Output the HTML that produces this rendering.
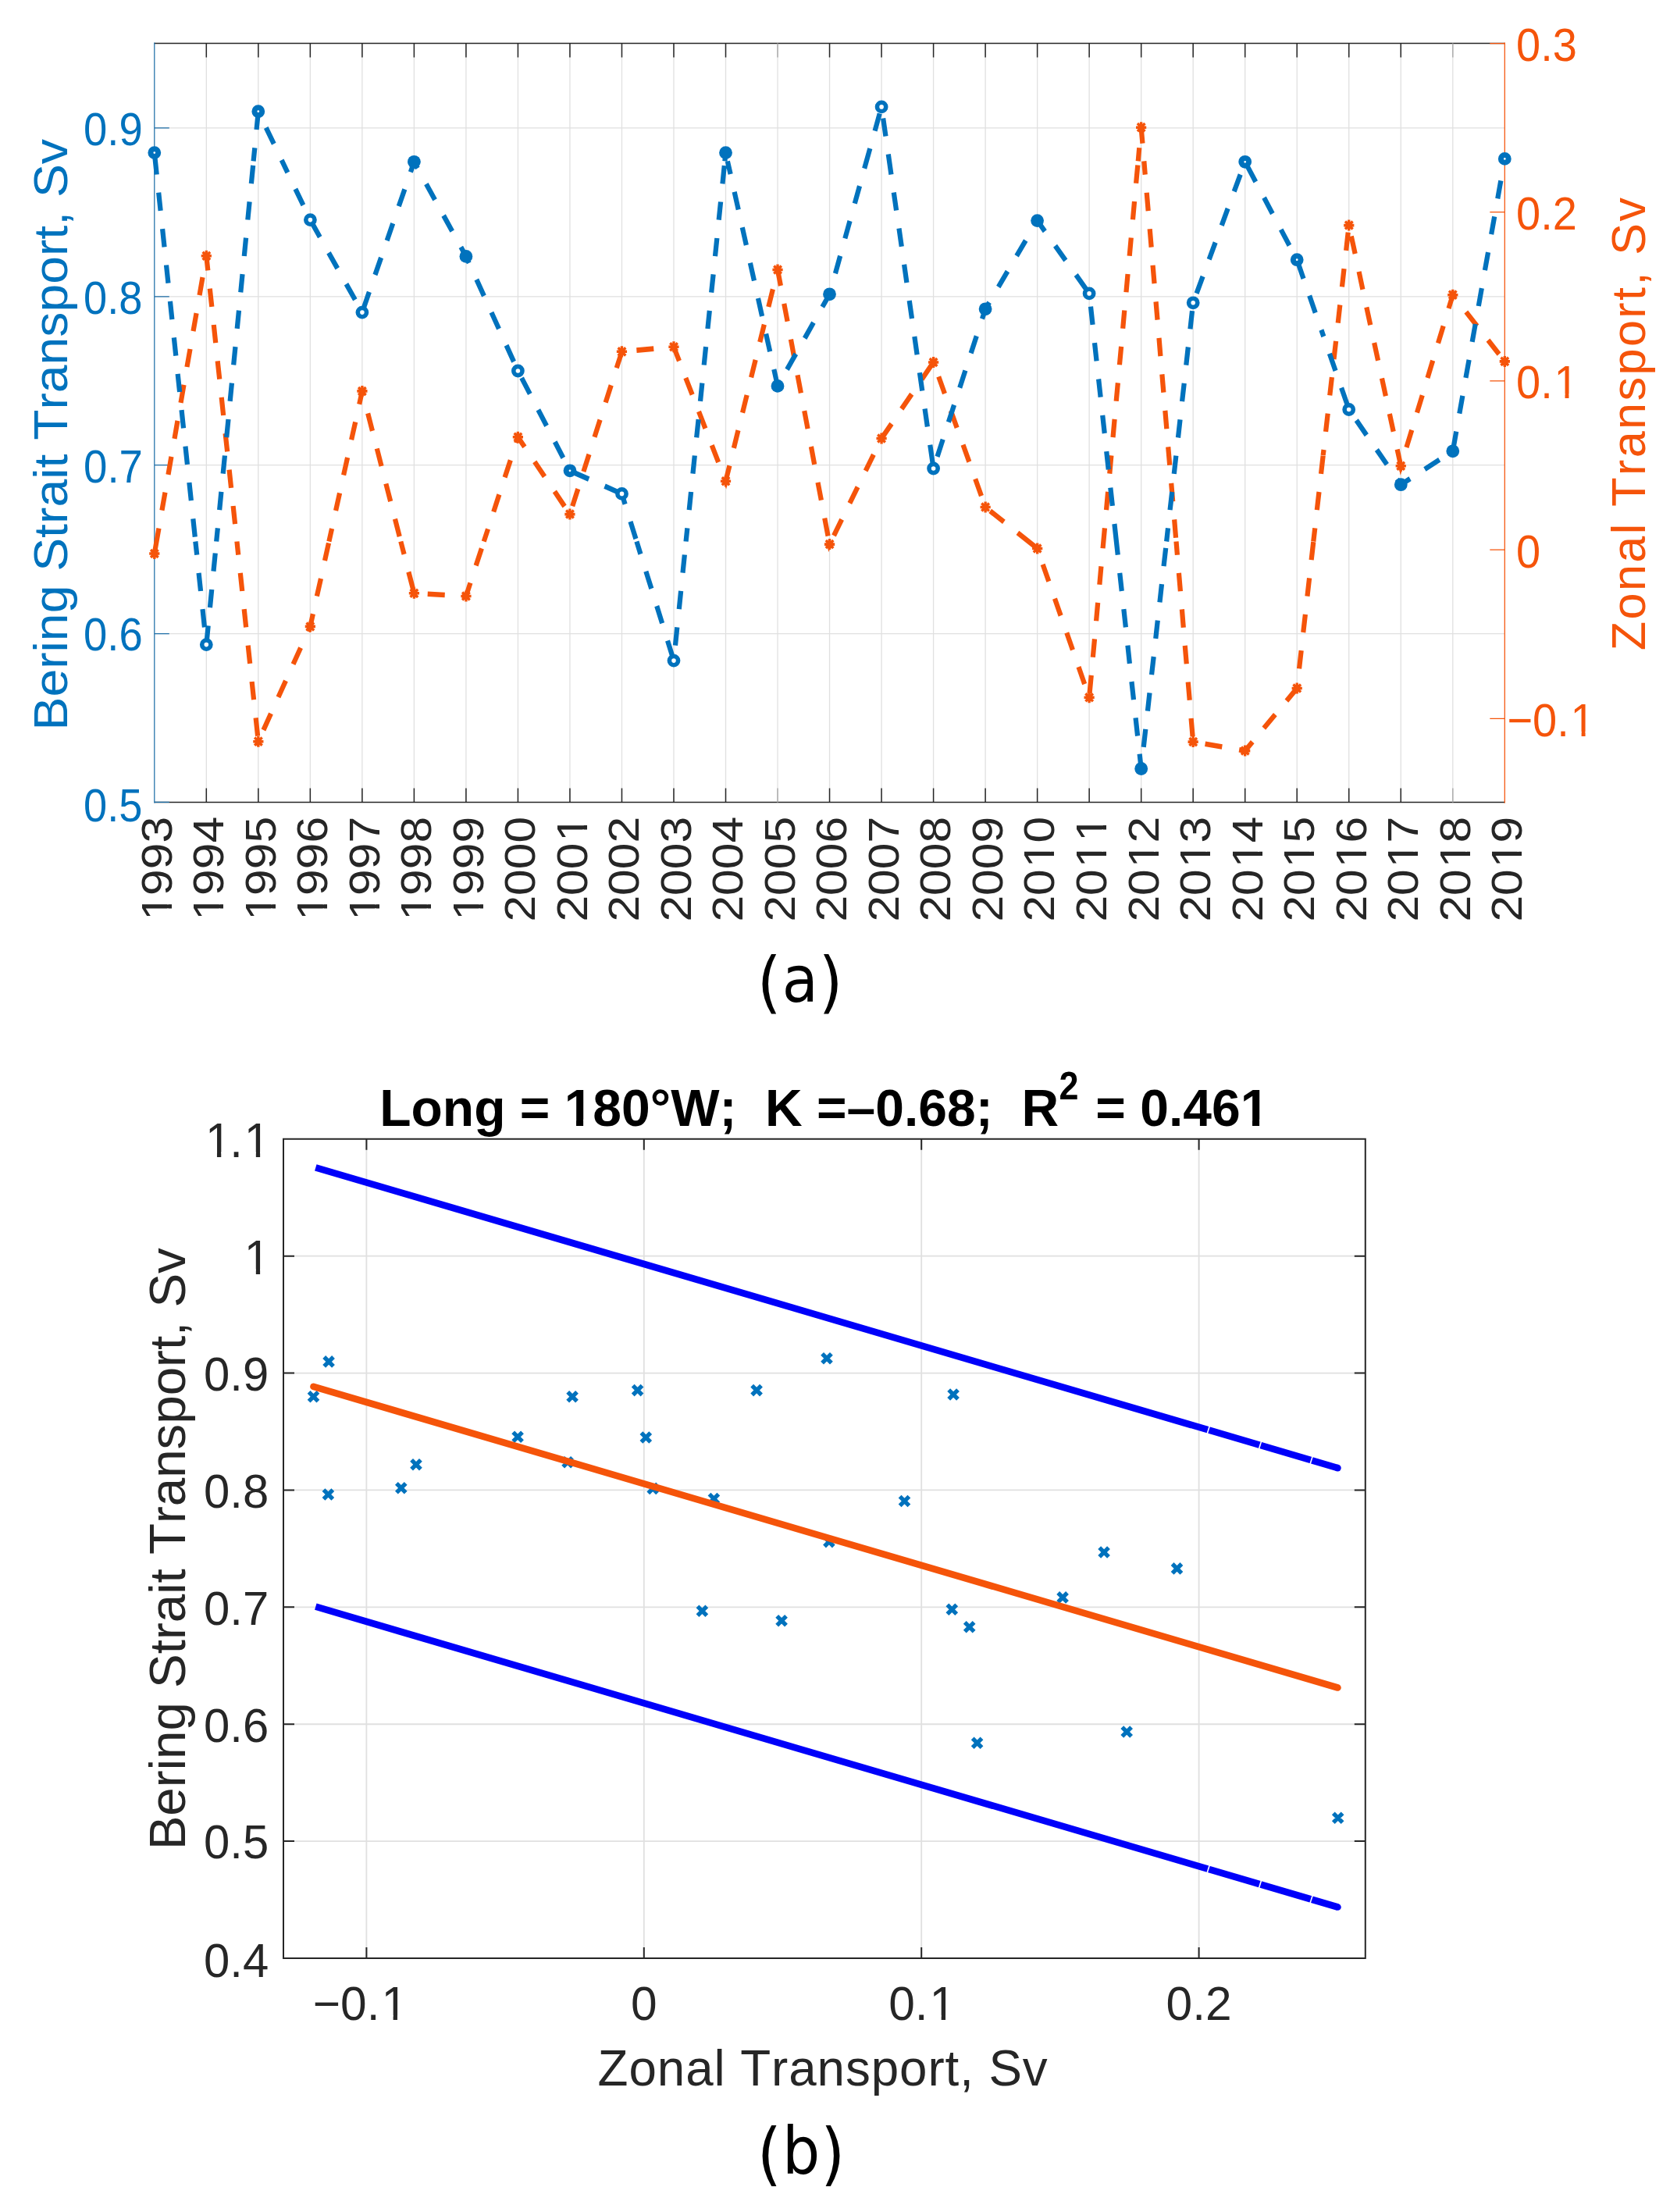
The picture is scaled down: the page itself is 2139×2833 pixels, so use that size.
<!DOCTYPE html>
<html lang="en"><head><meta charset="utf-8"><title>Bering Strait Transport vs Zonal Transport</title>
<style>html,body{margin:0;padding:0;background:#fff}svg text{font-kerning:none}svg{filter:blur(0.55px)}body{width:2139px;height:2833px;overflow:hidden}</style></head>
<body>
<svg width="2139" height="2833" viewBox="0 0 2139 2833" style="display:block"><rect x="0" y="0" width="2139" height="2833" fill="#fff"/>
<path d="M264.32 55.6V1027.4M330.84 55.6V1027.4M397.36 55.6V1027.4M463.88 55.6V1027.4M530.40 55.6V1027.4M596.92 55.6V1027.4M663.43 55.6V1027.4M729.95 55.6V1027.4M796.47 55.6V1027.4M862.99 55.6V1027.4M929.51 55.6V1027.4M996.03 55.6V1027.4M1062.55 55.6V1027.4M1129.07 55.6V1027.4M1195.59 55.6V1027.4M1262.11 55.6V1027.4M1328.63 55.6V1027.4M1395.15 55.6V1027.4M1461.67 55.6V1027.4M1528.18 55.6V1027.4M1594.70 55.6V1027.4M1661.22 55.6V1027.4M1727.74 55.6V1027.4M1794.26 55.6V1027.4M1860.78 55.6V1027.4M197.8 811.60H1927.3M197.8 595.70H1927.3M197.8 379.80H1927.3M197.8 163.90H1927.3" stroke="#e0e0e0" stroke-width="1.3" fill="none"/>
<path d="M197.8 55.6H1927.3M197.8 1027.4H1927.3" stroke="#262626" stroke-width="1.5" fill="none"/>
<path d="M264.32 55.6v18M264.32 1027.4v-18M330.84 55.6v18M330.84 1027.4v-18M397.36 55.6v18M397.36 1027.4v-18M463.88 55.6v18M463.88 1027.4v-18M530.40 55.6v18M530.40 1027.4v-18M596.92 55.6v18M596.92 1027.4v-18M663.43 55.6v18M663.43 1027.4v-18M729.95 55.6v18M729.95 1027.4v-18M796.47 55.6v18M796.47 1027.4v-18M862.99 55.6v18M862.99 1027.4v-18M929.51 55.6v18M929.51 1027.4v-18M1062.55 55.6v18M1062.55 1027.4v-18M1129.07 55.6v18M1129.07 1027.4v-18M1195.59 55.6v18M1195.59 1027.4v-18M1262.11 55.6v18M1262.11 1027.4v-18M1328.63 55.6v18M1328.63 1027.4v-18M1395.15 55.6v18M1395.15 1027.4v-18M1461.67 55.6v18M1461.67 1027.4v-18M1528.18 55.6v18M1528.18 1027.4v-18M1594.70 55.6v18M1594.70 1027.4v-18M1661.22 55.6v18M1661.22 1027.4v-18M1727.74 55.6v18M1727.74 1027.4v-18M1794.26 55.6v18M1794.26 1027.4v-18" stroke="#262626" stroke-width="1.5" fill="none"/>
<path d="M996.03 55.6v18M996.03 1027.4v-18M1860.78 55.6v18M1860.78 1027.4v-18" stroke="#b0b0b0" stroke-width="1.6" fill="none"/>
<path d="M197.8 54.6V1028.4M197.8 1027.40h19M197.8 811.60h19M197.8 595.70h19M197.8 379.80h19M197.8 163.90h19" stroke="#1f6fa8" stroke-width="1.25" fill="none"/>
<path d="M1927.3 54.6V1028.4M1927.3 920.25h-19M1927.3 704.00h-19M1927.3 487.75h-19M1927.3 271.50h-19M1927.3 55.60h-19" stroke="#f5540a" stroke-width="1.25" fill="none"/>
<g transform="scale(0.945 1)" fill="none">
<path d="M209.3 709.0L215.3 676.6M219.5 653.7L223.8 630.7M228.0 607.8L232.2 584.8M236.5 561.8L240.7 538.9M245.0 515.9L249.2 492.9M253.4 470.0L257.7 447.0M261.9 424.1L266.2 401.1M270.4 378.1L274.6 355.2M278.9 332.2L279.7 327.7L281.8 346.4M284.4 369.6L287.1 392.8M289.7 416.0L292.3 439.2M294.9 462.4L297.6 485.6M300.2 508.8L302.8 532.0M305.4 555.2L308.1 578.4M310.7 601.6L313.3 624.8M316.0 648.0L318.6 671.2M321.1 693.5L323.0 710.6M325.7 733.8L328.3 757.0M330.9 780.2L333.5 803.4M336.2 826.6L338.8 849.8M341.4 873.0L344.0 896.2M346.7 919.4L349.3 942.6M357.1 935.0L367.2 913.9M377.2 892.9L387.3 871.8M397.4 850.7L407.5 829.6M417.5 808.6L420.5 802.4L424.2 786.3M429.5 763.6L434.9 740.9M440.2 718.1L445.5 695.4M445.9 693.5L449.8 676.9M455.1 654.1L460.4 631.4M465.7 608.6L471.0 585.9M476.3 563.2L481.7 540.4M487.0 517.7L490.9 500.9L492.5 506.9M498.6 529.4L504.7 551.9M510.9 574.5L517.0 597.0M523.1 619.5L529.3 642.1M535.4 664.6L541.5 687.1M543.2 693.5L547.7 709.9M553.8 732.5L560.0 755.0M579.6 760.8L602.9 762.0M626.3 763.2L631.7 763.5L637.5 746.5M645.1 724.4L652.8 702.4M655.8 693.5L661.4 677.5M669.0 655.5L676.6 633.4M684.2 611.3L691.9 589.3M699.5 567.2L702.0 559.8L711.0 572.4M724.6 591.4L738.1 610.4M751.7 629.4L765.2 648.5M775.9 648.2L783.4 626.1M790.9 604.0L798.4 581.9M805.8 559.8L813.3 537.6M820.8 515.5L828.3 493.4M835.7 471.3L841.8 453.5M862.8 448.6L886.0 446.6M909.3 444.6L913.2 444.3L920.6 462.3M929.4 483.9L938.3 505.5M947.1 527.1L956.0 548.7M964.8 570.3L973.7 591.9M982.5 613.5L983.6 616.2L988.8 596.4M994.6 573.8L1000.5 551.2M1006.4 528.6L1012.3 506.0M1018.1 483.4L1024.0 460.8M1029.9 438.2L1035.8 415.6M1041.6 393.0L1047.5 370.4M1053.4 347.8L1054.0 345.5L1058.1 366.0M1062.7 388.9L1067.3 411.7M1071.9 434.6L1076.4 457.5M1081.0 480.4L1085.6 503.3M1090.2 526.2L1094.8 549.1M1099.4 572.0L1103.9 594.9M1108.5 617.8L1113.1 640.7M1117.7 663.6L1122.3 686.5M1123.7 693.5L1124.4 697.1L1126.3 693.5M1130.2 685.9L1140.9 665.2M1151.7 644.5L1162.5 623.8M1173.2 603.0L1184.0 582.3M1194.7 561.6L1194.8 561.5L1208.4 542.7M1222.0 523.7L1235.7 504.8M1249.4 485.9L1263.0 466.9M1272.2 482.4L1280.4 504.2M1288.7 526.0L1297.0 547.9M1305.3 569.7L1313.6 591.5M1321.9 613.4L1330.1 635.2M1342.0 654.4L1360.7 668.4M1379.3 682.4L1404.6 701.4M1413.4 722.8L1421.5 744.7M1429.6 766.6L1437.7 788.5M1445.8 810.4L1453.9 832.3M1461.9 854.2L1470.0 876.1M1476.8 888.1L1479.1 864.9M1481.3 841.7L1483.6 818.4M1485.8 795.2L1488.0 771.9M1490.3 748.7L1492.5 725.4M1494.8 702.2L1497.3 676.4M1499.5 653.1L1501.7 629.9M1504.0 606.6L1506.2 583.4M1508.5 560.1L1510.7 536.9M1512.9 513.7L1515.2 490.4M1517.4 467.2L1519.7 443.9M1521.9 420.7L1524.1 397.5M1526.4 374.2L1528.6 351.0M1530.9 327.7L1533.1 304.5M1535.4 281.2L1537.6 258.0M1539.8 234.8L1542.1 211.5M1542.6 206.4L1544.2 189.3M1546.5 166.0L1546.7 163.2L1548.6 183.6M1550.6 206.4L1552.1 223.6M1554.2 246.8L1556.3 270.1M1558.4 293.3L1560.5 316.6M1562.5 339.8L1564.6 363.1M1566.7 386.4L1568.8 409.6M1570.9 432.9L1572.9 456.1M1575.0 479.4L1577.1 502.6M1579.2 525.9L1581.3 549.2M1583.3 572.4L1585.4 595.7M1587.5 618.9L1589.6 642.2M1591.7 665.4L1593.7 688.7M1594.2 693.5L1595.7 710.7M1597.8 733.9L1599.9 757.2M1602.0 780.4L1604.0 803.7M1606.1 826.9L1608.2 850.2M1610.3 873.5L1612.4 896.7M1614.4 920.0L1616.5 943.2M1633.4 952.7L1656.4 956.5M1679.5 960.2L1687.5 961.6L1697.6 950.1M1713.0 932.6L1728.4 915.1M1743.8 897.6L1757.9 881.5L1758.1 879.5M1760.9 856.3L1763.7 833.2M1766.4 810.0L1769.2 786.8M1771.9 763.6L1774.7 740.4M1777.4 717.2L1780.2 694.0M1780.2 693.5L1782.3 676.4M1785.0 653.2L1787.8 630.0M1790.5 606.9L1793.3 583.7M1793.3 583.1L1794.2 576.0M1796.9 552.8L1799.7 529.6M1802.4 506.4L1805.2 483.2M1807.9 460.0L1810.7 436.8M1813.5 413.7L1816.2 390.5M1819.0 367.3L1821.7 344.1M1824.5 320.9L1827.2 297.7M1831.5 302.4L1836.7 325.1M1841.9 347.9L1847.0 370.7M1852.2 393.4L1857.4 416.2M1862.6 439.0L1867.8 461.7M1873.0 484.5L1878.2 507.3M1883.4 530.0L1888.6 552.8M1893.8 575.5L1898.7 596.7L1899.2 595.2M1906.3 573.0L1913.5 550.7M1920.6 528.5L1927.8 506.3M1934.9 484.1L1942.0 461.8M1949.2 439.6L1956.3 417.4M1963.5 395.1L1969.1 377.7L1972.3 381.5M1987.1 399.5L2002.0 417.5M2016.9 435.6L2031.8 453.6" stroke="#f5540a" stroke-width="6.6"/>
<path d="M209.3 195.6L212.4 223.5M215.0 246.7L217.6 269.9M220.2 293.1L222.8 316.3M225.4 339.5L228.0 362.7M230.6 385.9L233.2 409.2M235.8 432.4L238.4 455.6M240.9 478.8L243.5 502.0M246.1 525.2L248.7 548.4M251.3 571.6L253.9 594.8M256.5 618.0L259.1 641.2M261.7 664.4L264.3 687.6M264.9 693.5L266.9 710.6M269.4 733.8L272.0 757.0M274.6 780.2L277.2 803.4M279.8 824.6L282.2 801.4M284.6 778.2L287.0 755.0M289.4 731.7L291.8 708.5M293.3 693.5L295.1 676.4M297.5 653.1L299.9 629.9M302.3 606.7L304.7 583.5M307.1 560.2L309.5 537.0M311.8 513.8L314.2 490.6M316.6 467.3L319.0 444.1M321.4 420.9L323.8 397.6M326.2 374.4L328.6 351.2M331.0 328.0L333.4 304.7M335.8 281.5L338.2 258.3M340.6 235.1L343.0 211.8M343.5 206.4L345.3 189.3M347.7 166.0L350.1 142.8M360.6 163.5L371.2 184.3M381.7 205.1L389.8 221.1M400.4 242.0L411.0 262.8M421.7 283.5L433.6 303.6M445.5 323.7L457.4 343.8M469.3 363.8L481.3 383.9M492.4 395.8L500.4 373.9M508.4 352.0L516.5 330.0M524.5 308.1L532.5 286.2M540.5 264.2L548.5 242.3M556.5 220.4L561.3 207.3L566.0 215.5M577.7 235.6L589.5 255.8M601.2 276.0L612.9 296.2M624.7 316.4L631.7 328.4L635.7 336.9M645.9 358.0L656.0 379.0M666.1 400.1L676.2 421.1M686.3 442.2L696.4 463.2M707.0 484.0L718.3 504.5M729.5 524.9L740.8 545.4M752.1 565.8L763.3 586.3M776.5 604.6L798.1 613.6M819.6 622.6L841.1 631.7M841.7 631.9L842.8 632.4L847.2 645.8M854.5 668.0L861.8 690.1M862.9 693.5L868.2 709.6M875.5 731.8L882.9 753.9M890.2 776.1L897.5 798.3M904.8 820.5L912.1 842.6M915.3 826.6L917.8 803.4M920.4 780.2L922.9 756.9M925.4 733.7L927.9 710.5M929.7 693.5L931.6 676.4M934.1 653.2L936.6 630.0M939.1 606.7L941.6 583.5M944.1 560.3L946.7 537.1M949.2 513.9L951.7 490.7M954.2 467.5L956.7 444.2M959.2 421.0L961.7 397.8M964.2 374.6L966.8 351.4M969.3 328.2L971.8 305.0M974.3 281.7L976.8 258.5M979.3 235.3L981.8 212.1M982.4 206.4L983.6 195.6L985.1 201.9M986.1 206.4L990.1 223.0M995.4 245.8L1000.8 268.5M1006.1 291.2L1011.5 313.9M1016.8 336.7L1022.2 359.4M1027.5 382.1L1032.9 404.9M1038.2 427.6L1043.6 450.3M1049.0 473.0L1054.0 494.4L1054.7 493.3M1066.7 473.2L1078.7 453.2M1090.7 433.2L1102.6 413.1M1114.6 393.1L1124.4 376.8L1125.6 372.6M1132.2 350.2L1138.8 327.8M1145.3 305.4L1151.9 283.0M1158.5 260.6L1165.1 238.2M1171.6 215.8L1179.2 190.1M1185.8 167.7L1192.3 145.3M1197.0 151.4L1200.5 174.5M1204.0 197.5L1207.9 223.4M1211.4 246.5L1214.9 269.6M1218.5 292.6L1222.0 315.7M1225.5 338.8L1229.0 361.9M1232.5 385.0L1236.0 408.1M1239.5 431.1L1243.0 454.2M1246.5 477.3L1250.0 500.4M1253.5 523.5L1257.0 546.6M1260.6 569.7L1264.1 592.7M1270.4 584.9L1278.0 562.8M1285.6 540.7L1293.2 518.7M1300.8 496.6L1308.4 474.5M1316.0 452.4L1323.6 430.4M1331.2 408.3L1335.6 395.8L1340.9 387.2M1353.2 367.4L1365.6 347.5M1377.9 327.7L1390.2 307.9M1402.6 288.1L1406.0 282.6L1416.2 296.2M1430.2 314.8L1444.3 333.5M1458.4 352.1L1472.4 370.7M1478.3 392.7L1481.0 415.9M1483.6 439.1L1486.3 462.3M1489.0 485.5L1491.7 508.6M1494.4 531.8L1497.1 555.0M1499.7 578.2L1502.4 601.4M1505.1 624.6L1507.8 647.8M1510.5 671.0L1515.1 710.6M1517.7 733.8L1520.4 757.0M1523.1 780.2L1525.8 803.4M1528.5 826.6L1531.1 849.8M1533.8 873.0L1536.5 896.2M1539.2 919.4L1541.9 942.5M1544.6 965.7L1546.7 984.5L1547.3 980.1M1550.0 956.9L1552.7 933.8M1555.5 910.6L1558.2 887.4M1560.9 864.2L1563.7 841.0M1566.4 817.8L1569.1 794.6M1571.9 771.4L1574.6 748.2M1577.3 725.1L1580.1 701.9M1581.1 693.5L1583.1 676.4M1585.8 653.2L1588.6 630.0M1591.3 606.8L1594.0 583.7M1596.8 560.5L1599.5 537.3M1602.2 514.1L1605.0 490.9M1607.7 467.7L1610.4 444.5M1613.2 421.3L1615.9 398.1M1621.8 375.7L1630.3 354.0M1638.8 332.2L1647.3 310.5M1655.8 288.7L1664.2 267.0M1672.7 245.2L1681.2 223.5M1690.5 212.5L1701.9 232.9M1713.3 253.2L1724.7 273.6M1736.2 294.0L1747.6 314.3M1758.7 334.9L1766.7 356.8M1774.8 378.7L1782.8 400.6M1790.9 422.5L1794.0 431.0M1802.0 452.9L1810.1 474.8M1818.1 496.7L1826.2 518.6M1838.4 538.3L1852.2 557.2M1866.0 576.0L1879.8 594.9M1893.5 613.7L1898.7 620.7L1911.2 613.1M1931.1 601.0L1951.0 588.8M1969.5 575.6L1973.8 552.7M1978.1 529.7L1982.4 506.8M1986.7 483.8L1991.1 460.9M1995.4 437.9L1999.7 415.0M2004.0 392.0L2008.3 369.1M2012.6 346.1L2017.0 323.2M2021.3 300.2L2025.6 277.3M2029.9 254.3L2034.2 231.4M2038.5 208.4L2039.5 203.4" stroke="#0072bd" stroke-width="6.6"/>
<path d="M202.3 709.0h14.0M209.3 702.0v14.0M204.3 703.9l10.1 10.1M204.3 714.0l10.1 -10.1M272.7 327.7h14.0M279.7 320.7v14.0M274.7 322.7l10.1 10.1M274.7 332.8l10.1 -10.1M343.1 949.7h14.0M350.1 942.7v14.0M345.1 944.6l10.1 10.1M345.1 954.7l10.1 -10.1M413.5 802.4h14.0M420.5 795.4v14.0M415.4 797.4l10.1 10.1M415.4 807.4l10.1 -10.1M483.9 500.9h14.0M490.9 493.9v14.0M485.8 495.9l10.1 10.1M485.8 506.0l10.1 -10.1M554.3 759.8h14.0M561.3 752.8v14.0M556.2 754.8l10.1 10.1M556.2 764.8l10.1 -10.1M624.7 763.5h14.0M631.7 756.5v14.0M626.6 758.4l10.1 10.1M626.6 768.5l10.1 -10.1M695.0 559.8h14.0M702.0 552.8v14.0M697.0 554.7l10.1 10.1M697.0 564.8l10.1 -10.1M765.4 658.6h14.0M772.4 651.6v14.0M767.4 653.5l10.1 10.1M767.4 663.6l10.1 -10.1M835.8 450.3h14.0M842.8 443.3v14.0M837.8 445.3l10.1 10.1M837.8 455.4l10.1 -10.1M906.2 444.3h14.0M913.2 437.3v14.0M908.2 439.2l10.1 10.1M908.2 449.3l10.1 -10.1M976.6 616.2h14.0M983.6 609.2v14.0M978.6 611.2l10.1 10.1M978.6 621.2l10.1 -10.1M1047.0 345.5h14.0M1054.0 338.5v14.0M1049.0 340.4l10.1 10.1M1049.0 350.5l10.1 -10.1M1117.4 697.1h14.0M1124.4 690.1v14.0M1119.4 692.0l10.1 10.1M1119.4 702.1l10.1 -10.1M1187.8 561.5h14.0M1194.8 554.5v14.0M1189.7 556.5l10.1 10.1M1189.7 566.5l10.1 -10.1M1258.2 464.0h14.0M1265.2 457.0v14.0M1260.1 458.9l10.1 10.1M1260.1 469.0l10.1 -10.1M1328.6 649.5h14.0M1335.6 642.5v14.0M1330.5 644.5l10.1 10.1M1330.5 654.5l10.1 -10.1M1399.0 702.5h14.0M1406.0 695.5v14.0M1400.9 697.4l10.1 10.1M1400.9 707.5l10.1 -10.1M1469.3 893.2h14.0M1476.3 886.2v14.0M1471.3 888.2l10.1 10.1M1471.3 898.3l10.1 -10.1M1539.7 163.2h14.0M1546.7 156.2v14.0M1541.7 158.1l10.1 10.1M1541.7 168.2l10.1 -10.1M1610.1 950.1h14.0M1617.1 943.1v14.0M1612.1 945.1l10.1 10.1M1612.1 955.1l10.1 -10.1M1680.5 961.6h14.0M1687.5 954.6v14.0M1682.5 956.5l10.1 10.1M1682.5 966.6l10.1 -10.1M1750.9 881.5h14.0M1757.9 874.5v14.0M1752.9 876.5l10.1 10.1M1752.9 886.6l10.1 -10.1M1821.3 288.6h14.0M1828.3 281.6v14.0M1823.3 283.5l10.1 10.1M1823.3 293.6l10.1 -10.1M1891.7 596.7h14.0M1898.7 589.7v14.0M1893.6 591.7l10.1 10.1M1893.6 601.8l10.1 -10.1M1962.1 377.7h14.0M1969.1 370.7v14.0M1964.0 372.6l10.1 10.1M1964.0 382.7l10.1 -10.1M2032.5 462.9h14.0M2039.5 455.9v14.0M2034.4 457.8l10.1 10.1M2034.4 467.9l10.1 -10.1" stroke="#f5540a" stroke-width="3.6"/>
</g>
<circle cx="197.8" cy="195.6" r="4.9" stroke="#0072bd" stroke-width="7" fill="#fff"/>
<circle cx="264.3" cy="825.6" r="5.6" stroke="#0072bd" stroke-width="5.6" fill="#fff"/>
<circle cx="330.8" cy="142.7" r="4.9" stroke="#0072bd" stroke-width="7" fill="#fff"/>
<circle cx="397.4" cy="281.6" r="5.6" stroke="#0072bd" stroke-width="5.6" fill="#fff"/>
<circle cx="463.9" cy="400.1" r="5.6" stroke="#0072bd" stroke-width="5.6" fill="#fff"/>
<circle cx="530.4" cy="207.3" r="8.4" fill="#0072bd"/>
<circle cx="596.9" cy="328.4" r="8.4" fill="#0072bd"/>
<circle cx="663.4" cy="475.0" r="5.6" stroke="#0072bd" stroke-width="5.6" fill="#fff"/>
<circle cx="730.0" cy="602.8" r="4.9" stroke="#0072bd" stroke-width="7" fill="#fff"/>
<circle cx="796.5" cy="632.4" r="5.6" stroke="#0072bd" stroke-width="5.6" fill="#fff"/>
<circle cx="863.0" cy="846.1" r="5.6" stroke="#0072bd" stroke-width="5.6" fill="#fff"/>
<circle cx="929.5" cy="195.6" r="8.4" fill="#0072bd"/>
<circle cx="996.0" cy="494.4" r="8.4" fill="#0072bd"/>
<circle cx="1062.5" cy="376.8" r="8.4" fill="#0072bd"/>
<circle cx="1129.1" cy="136.9" r="5.6" stroke="#0072bd" stroke-width="5.6" fill="#fff"/>
<circle cx="1195.6" cy="600.0" r="5.6" stroke="#0072bd" stroke-width="5.6" fill="#fff"/>
<circle cx="1262.1" cy="395.8" r="8.4" fill="#0072bd"/>
<circle cx="1328.6" cy="282.6" r="8.4" fill="#0072bd"/>
<circle cx="1395.1" cy="375.9" r="5.6" stroke="#0072bd" stroke-width="5.6" fill="#fff"/>
<circle cx="1461.7" cy="984.5" r="8.4" fill="#0072bd"/>
<circle cx="1528.2" cy="387.8" r="5.6" stroke="#0072bd" stroke-width="5.6" fill="#fff"/>
<circle cx="1594.7" cy="207.3" r="4.9" stroke="#0072bd" stroke-width="7" fill="#fff"/>
<circle cx="1661.2" cy="332.7" r="4.9" stroke="#0072bd" stroke-width="7" fill="#fff"/>
<circle cx="1727.7" cy="524.5" r="5.6" stroke="#0072bd" stroke-width="5.6" fill="#fff"/>
<circle cx="1794.3" cy="620.7" r="8.4" fill="#0072bd"/>
<circle cx="1860.8" cy="577.8" r="8.4" fill="#0072bd"/>
<circle cx="1927.3" cy="203.4" r="4.9" stroke="#0072bd" stroke-width="7" fill="#fff"/>
<g transform="matrix(0.9068 0 0 1.0000 107.02 186.30)"><text font-family='"Liberation Sans", Arial, sans-serif' font-weight="normal" font-size="60" fill="#0072bd" >0.9</text></g>
<g transform="matrix(0.9033 0 0 1.0000 107.03 402.20)"><text font-family='"Liberation Sans", Arial, sans-serif' font-weight="normal" font-size="60" fill="#0072bd" >0.8</text></g>
<g transform="matrix(0.9103 0 0 1.0000 107.02 617.70)"><text font-family='"Liberation Sans", Arial, sans-serif' font-weight="normal" font-size="60" fill="#0072bd" >0.7</text></g>
<g transform="matrix(0.9068 0 0 1.0000 107.02 833.20)"><text font-family='"Liberation Sans", Arial, sans-serif' font-weight="normal" font-size="60" fill="#0072bd" >0.6</text></g>
<g transform="matrix(0.9033 0 0 1.0000 107.03 1052.40)"><text font-family='"Liberation Sans", Arial, sans-serif' font-weight="normal" font-size="60" fill="#0072bd" >0.5</text></g>
<g transform="matrix(0.9333 0 0 1.0000 1942.00 78.30)"><text font-family='"Liberation Sans", Arial, sans-serif' font-weight="normal" font-size="60" fill="#f5540a" >0.3</text></g>
<g transform="matrix(0.9333 0 0 1.0000 1942.00 294.20)"><text font-family='"Liberation Sans", Arial, sans-serif' font-weight="normal" font-size="60" fill="#f5540a" >0.2</text></g>
<g transform="matrix(0.9333 0 0 1.0000 1942.00 510.45)"><text font-family='"Liberation Sans", Arial, sans-serif' font-weight="normal" font-size="60" dx="0.00 0.00 1.86" fill="#f5540a" >0.1</text><path d="M55.19 -5.98H66.98V1.20H55.19ZM72.28 -5.98H83.57V1.20H72.28Z" fill="#fff"/></g>
<g transform="matrix(0.9333 0 0 1.0000 1942.00 726.70)"><text font-family='"Liberation Sans", Arial, sans-serif' font-weight="normal" font-size="60" fill="#f5540a" >0</text></g>
<g transform="matrix(0.9333 0 0 1.0000 1930.40 942.95)"><text font-family='"Liberation Sans", Arial, sans-serif' font-weight="normal" font-size="60" dx="0.00 0.00 0.00 1.86" fill="#f5540a" >−0.1</text><path d="M90.23 -5.98H102.02V1.20H90.23ZM107.32 -5.98H118.61V1.20H107.32Z" fill="#fff"/></g>
<g transform="matrix(0 -1.0100 0.9249 0 219.65 1180.62)"><text font-family='"Liberation Sans", Arial, sans-serif' font-weight="normal" font-size="60" dx="1.86 -1.86 0.00 0.00" fill="#262626" >1993</text><path d="M5.16 -5.98H16.95V1.20H5.16ZM22.25 -5.98H33.54V1.20H22.25Z" fill="#fff"/></g>
<g transform="matrix(0 -1.0100 0.9249 0 286.16 1180.62)"><text font-family='"Liberation Sans", Arial, sans-serif' font-weight="normal" font-size="60" dx="1.86 -1.86 0.00 0.00" fill="#262626" >1994</text><path d="M5.16 -5.98H16.95V1.20H5.16ZM22.25 -5.98H33.54V1.20H22.25Z" fill="#fff"/></g>
<g transform="matrix(0 -1.0100 0.9249 0 352.68 1180.62)"><text font-family='"Liberation Sans", Arial, sans-serif' font-weight="normal" font-size="60" dx="1.86 -1.86 0.00 0.00" fill="#262626" >1995</text><path d="M5.16 -5.98H16.95V1.20H5.16ZM22.25 -5.98H33.54V1.20H22.25Z" fill="#fff"/></g>
<g transform="matrix(0 -1.0100 0.9249 0 419.20 1180.62)"><text font-family='"Liberation Sans", Arial, sans-serif' font-weight="normal" font-size="60" dx="1.86 -1.86 0.00 0.00" fill="#262626" >1996</text><path d="M5.16 -5.98H16.95V1.20H5.16ZM22.25 -5.98H33.54V1.20H22.25Z" fill="#fff"/></g>
<g transform="matrix(0 -1.0100 0.9249 0 485.72 1180.62)"><text font-family='"Liberation Sans", Arial, sans-serif' font-weight="normal" font-size="60" dx="1.86 -1.86 0.00 0.00" fill="#262626" >1997</text><path d="M5.16 -5.98H16.95V1.20H5.16ZM22.25 -5.98H33.54V1.20H22.25Z" fill="#fff"/></g>
<g transform="matrix(0 -1.0100 0.9249 0 552.24 1180.62)"><text font-family='"Liberation Sans", Arial, sans-serif' font-weight="normal" font-size="60" dx="1.86 -1.86 0.00 0.00" fill="#262626" >1998</text><path d="M5.16 -5.98H16.95V1.20H5.16ZM22.25 -5.98H33.54V1.20H22.25Z" fill="#fff"/></g>
<g transform="matrix(0 -1.0100 0.9249 0 618.76 1180.62)"><text font-family='"Liberation Sans", Arial, sans-serif' font-weight="normal" font-size="60" dx="1.86 -1.86 0.00 0.00" fill="#262626" >1999</text><path d="M5.16 -5.98H16.95V1.20H5.16ZM22.25 -5.98H33.54V1.20H22.25Z" fill="#fff"/></g>
<g transform="matrix(0 -1.0100 0.9249 0 685.28 1180.62)"><text font-family='"Liberation Sans", Arial, sans-serif' font-weight="normal" font-size="60" fill="#262626" >2000</text></g>
<g transform="matrix(0 -1.0100 0.9249 0 751.80 1180.62)"><text font-family='"Liberation Sans", Arial, sans-serif' font-weight="normal" font-size="60" dx="0.00 0.00 0.00 1.86" fill="#262626" >2001</text><path d="M105.26 -5.98H117.05V1.20H105.26ZM122.35 -5.98H133.64V1.20H122.35Z" fill="#fff"/></g>
<g transform="matrix(0 -1.0100 0.9249 0 818.32 1180.62)"><text font-family='"Liberation Sans", Arial, sans-serif' font-weight="normal" font-size="60" fill="#262626" >2002</text></g>
<g transform="matrix(0 -1.0100 0.9249 0 884.84 1180.62)"><text font-family='"Liberation Sans", Arial, sans-serif' font-weight="normal" font-size="60" fill="#262626" >2003</text></g>
<g transform="matrix(0 -1.0100 0.9249 0 951.36 1180.62)"><text font-family='"Liberation Sans", Arial, sans-serif' font-weight="normal" font-size="60" fill="#262626" >2004</text></g>
<g transform="matrix(0 -1.0100 0.9249 0 1017.88 1180.62)"><text font-family='"Liberation Sans", Arial, sans-serif' font-weight="normal" font-size="60" fill="#262626" >2005</text></g>
<g transform="matrix(0 -1.0100 0.9249 0 1084.40 1180.62)"><text font-family='"Liberation Sans", Arial, sans-serif' font-weight="normal" font-size="60" fill="#262626" >2006</text></g>
<g transform="matrix(0 -1.0100 0.9249 0 1150.91 1180.62)"><text font-family='"Liberation Sans", Arial, sans-serif' font-weight="normal" font-size="60" fill="#262626" >2007</text></g>
<g transform="matrix(0 -1.0100 0.9249 0 1217.43 1180.62)"><text font-family='"Liberation Sans", Arial, sans-serif' font-weight="normal" font-size="60" fill="#262626" >2008</text></g>
<g transform="matrix(0 -1.0100 0.9249 0 1283.95 1180.62)"><text font-family='"Liberation Sans", Arial, sans-serif' font-weight="normal" font-size="60" fill="#262626" >2009</text></g>
<g transform="matrix(0 -1.0100 0.9249 0 1350.47 1180.62)"><text font-family='"Liberation Sans", Arial, sans-serif' font-weight="normal" font-size="60" dx="0.00 0.00 1.86 -1.86" fill="#262626" >2010</text><path d="M71.89 -5.98H83.68V1.20H71.89ZM88.98 -5.98H100.27V1.20H88.98Z" fill="#fff"/></g>
<g transform="matrix(0 -1.0100 0.9249 0 1416.99 1180.62)"><text font-family='"Liberation Sans", Arial, sans-serif' font-weight="normal" font-size="60" dx="0.00 0.00 1.86 0.00" fill="#262626" >2011</text><path d="M71.89 -5.98H83.68V1.20H71.89ZM88.98 -5.98H100.27V1.20H88.98Z" fill="#fff"/><path d="M105.26 -5.98H117.05V1.20H105.26ZM122.35 -5.98H133.64V1.20H122.35Z" fill="#fff"/></g>
<g transform="matrix(0 -1.0100 0.9249 0 1483.51 1180.62)"><text font-family='"Liberation Sans", Arial, sans-serif' font-weight="normal" font-size="60" dx="0.00 0.00 1.86 -1.86" fill="#262626" >2012</text><path d="M71.89 -5.98H83.68V1.20H71.89ZM88.98 -5.98H100.27V1.20H88.98Z" fill="#fff"/></g>
<g transform="matrix(0 -1.0100 0.9249 0 1550.03 1180.62)"><text font-family='"Liberation Sans", Arial, sans-serif' font-weight="normal" font-size="60" dx="0.00 0.00 1.86 -1.86" fill="#262626" >2013</text><path d="M71.89 -5.98H83.68V1.20H71.89ZM88.98 -5.98H100.27V1.20H88.98Z" fill="#fff"/></g>
<g transform="matrix(0 -1.0100 0.9249 0 1616.55 1180.62)"><text font-family='"Liberation Sans", Arial, sans-serif' font-weight="normal" font-size="60" dx="0.00 0.00 1.86 -1.86" fill="#262626" >2014</text><path d="M71.89 -5.98H83.68V1.20H71.89ZM88.98 -5.98H100.27V1.20H88.98Z" fill="#fff"/></g>
<g transform="matrix(0 -1.0100 0.9249 0 1683.07 1180.62)"><text font-family='"Liberation Sans", Arial, sans-serif' font-weight="normal" font-size="60" dx="0.00 0.00 1.86 -1.86" fill="#262626" >2015</text><path d="M71.89 -5.98H83.68V1.20H71.89ZM88.98 -5.98H100.27V1.20H88.98Z" fill="#fff"/></g>
<g transform="matrix(0 -1.0100 0.9249 0 1749.59 1180.62)"><text font-family='"Liberation Sans", Arial, sans-serif' font-weight="normal" font-size="60" dx="0.00 0.00 1.86 -1.86" fill="#262626" >2016</text><path d="M71.89 -5.98H83.68V1.20H71.89ZM88.98 -5.98H100.27V1.20H88.98Z" fill="#fff"/></g>
<g transform="matrix(0 -1.0100 0.9249 0 1816.11 1180.62)"><text font-family='"Liberation Sans", Arial, sans-serif' font-weight="normal" font-size="60" dx="0.00 0.00 1.86 -1.86" fill="#262626" >2017</text><path d="M71.89 -5.98H83.68V1.20H71.89ZM88.98 -5.98H100.27V1.20H88.98Z" fill="#fff"/></g>
<g transform="matrix(0 -1.0100 0.9249 0 1882.63 1180.62)"><text font-family='"Liberation Sans", Arial, sans-serif' font-weight="normal" font-size="60" dx="0.00 0.00 1.86 -1.86" fill="#262626" >2018</text><path d="M71.89 -5.98H83.68V1.20H71.89ZM88.98 -5.98H100.27V1.20H88.98Z" fill="#fff"/></g>
<g transform="matrix(0 -1.0100 0.9249 0 1949.15 1180.62)"><text font-family='"Liberation Sans", Arial, sans-serif' font-weight="normal" font-size="60" dx="0.00 0.00 1.86 -1.86" fill="#262626" >2019</text><path d="M71.89 -5.98H83.68V1.20H71.89ZM88.98 -5.98H100.27V1.20H88.98Z" fill="#fff"/></g>
<g transform="matrix(0 -1.0047 0.9542 0 86.28 935.44)"><text font-family='"Liberation Sans", Arial, sans-serif' font-weight="normal" font-size="64" fill="#0072bd" >Bering Strait Transport, Sv</text></g>
<g transform="matrix(0 -0.9942 1.0087 0 2106.57 833.23)"><text font-family='"Liberation Sans", Arial, sans-serif' font-weight="normal" font-size="61.5" letter-spacing="2.43" fill="#f5540a" >Zonal Transport, Sv</text></g>
<g transform="matrix(0.9378 0 0 1.0233 969.80 1286.93)"><text font-family='"DejaVu Sans", Verdana, sans-serif' font-weight="normal" font-size="84" fill="#000" >(<tspan dx="1.2" dy="-3.8" font-size="80.2">a</tspan><tspan dx="1.2" dy="3.8" font-size="84">)</tspan></text></g>
<path d="M469.40 1458.8V2508.0M824.80 1458.8V2508.0M1180.20 1458.8V2508.0M1535.60 1458.8V2508.0M363.0 2358.11H1748.8M363.0 2208.23H1748.8M363.0 2058.34H1748.8M363.0 1908.46H1748.8M363.0 1758.57H1748.8M363.0 1608.69H1748.8" stroke="#e0e0e0" stroke-width="1.8" fill="none"/>
<path d="M363.0 1458.8H1748.8V2508.0H363.0ZM469.40 1458.8v14M469.40 2508.0v-14M824.80 1458.8v14M824.80 2508.0v-14M1180.20 1458.8v14M1180.20 2508.0v-14M1535.60 1458.8v14M1535.60 2508.0v-14M363.0 2358.11h14M1748.8 2358.11h-14M363.0 2208.23h14M1748.8 2208.23h-14M363.0 2058.34h14M1748.8 2058.34h-14M363.0 1908.46h14M1748.8 1908.46h-14M363.0 1758.57h14M1748.8 1758.57h-14M363.0 1608.69h14M1748.8 1608.69h-14" stroke="#262626" stroke-width="2" fill="none"/>
<path d="M810.7 1774.7l11.8 11.8M810.7 1786.5l11.8 -11.8M1437.3 2212.1l11.8 11.8M1437.3 2223.9l11.8 -11.8M415.2 1738.0l11.8 11.8M415.2 1749.8l11.8 -11.8M657.2 1834.4l11.8 11.8M657.2 1846.2l11.8 -11.8M1152.6 1916.6l11.8 11.8M1152.6 1928.4l11.8 -11.8M727.2 1782.8l11.8 11.8M727.2 1794.6l11.8 -11.8M721.2 1866.9l11.8 11.8M721.2 1878.7l11.8 -11.8M1056.0 1968.7l11.8 11.8M1056.0 1980.5l11.8 -11.8M893.5 2057.4l11.8 11.8M893.5 2069.2l11.8 -11.8M1235.8 2077.9l11.8 11.8M1235.8 2089.7l11.8 -11.8M1245.7 2226.3l11.8 11.8M1245.7 2238.1l11.8 -11.8M963.2 1774.7l11.8 11.8M963.2 1786.5l11.8 -11.8M1408.2 1982.1l11.8 11.8M1408.2 1993.9l11.8 -11.8M830.3 1900.5l11.8 11.8M830.3 1912.3l11.8 -11.8M1053.1 1733.9l11.8 11.8M1053.1 1745.7l11.8 -11.8M1213.4 2055.4l11.8 11.8M1213.4 2067.2l11.8 -11.8M908.5 1913.6l11.8 11.8M908.5 1925.4l11.8 -11.8M821.4 1835.1l11.8 11.8M821.4 1846.9l11.8 -11.8M507.9 1899.9l11.8 11.8M507.9 1911.7l11.8 -11.8M1707.8 2322.4l11.8 11.8M1707.8 2334.2l11.8 -11.8M414.5 1908.1l11.8 11.8M414.5 1919.9l11.8 -11.8M395.6 1782.8l11.8 11.8M395.6 1794.6l11.8 -11.8M527.1 1869.9l11.8 11.8M527.1 1881.7l11.8 -11.8M1501.6 2003.0l11.8 11.8M1501.6 2014.8l11.8 -11.8M995.2 2069.8l11.8 11.8M995.2 2081.6l11.8 -11.8M1355.2 2040.0l11.8 11.8M1355.2 2051.8l11.8 -11.8M1215.2 1780.1l11.8 11.8M1215.2 1791.9l11.8 -11.8" stroke="#0072bd" stroke-width="5.4" fill="none"/>
<path d="M404.3 1495.3L1713.4 1880.1" stroke="#0000fa" stroke-width="8.7" fill="none"/>
<circle cx="1713.4" cy="1880.1" r="4.35" fill="#0000fa"/>
<path d="M1549.9 1824.4L1545.5 1838.4" stroke="#fff" stroke-width="1.6"/>
<path d="M1616.2 1843.9L1611.8 1857.9" stroke="#fff" stroke-width="1.6"/>
<path d="M1681.8 1863.2L1677.4 1877.2" stroke="#fff" stroke-width="1.6"/>
<path d="M404.3 2057.7L1713.4 2442.5" stroke="#0000fa" stroke-width="8.7" fill="none"/>
<circle cx="1713.4" cy="2442.5" r="4.35" fill="#0000fa"/>
<path d="M1549.9 2386.8L1545.5 2400.8" stroke="#fff" stroke-width="1.6"/>
<path d="M1616.2 2406.3L1611.8 2420.3" stroke="#fff" stroke-width="1.6"/>
<path d="M1681.8 2425.6L1677.4 2439.6" stroke="#fff" stroke-width="1.6"/>
<path d="M401.5 1775.9L1713.4 2161.5" stroke="#f5540a" stroke-width="8.7" stroke-linecap="round" fill="none"/>
<g transform="matrix(0.9967 0 0 1.0070 261.07 2532.00)"><text font-family='"Liberation Sans", Arial, sans-serif' font-weight="normal" font-size="60" fill="#262626" >0.4</text></g>
<g transform="matrix(0.9967 0 0 1.0070 261.07 2380.41)"><text font-family='"Liberation Sans", Arial, sans-serif' font-weight="normal" font-size="60" fill="#262626" >0.5</text></g>
<g transform="matrix(0.9967 0 0 1.0070 261.07 2230.52)"><text font-family='"Liberation Sans", Arial, sans-serif' font-weight="normal" font-size="60" fill="#262626" >0.6</text></g>
<g transform="matrix(0.9967 0 0 1.0070 261.07 2080.64)"><text font-family='"Liberation Sans", Arial, sans-serif' font-weight="normal" font-size="60" fill="#262626" >0.7</text></g>
<g transform="matrix(0.9967 0 0 1.0070 261.07 1930.75)"><text font-family='"Liberation Sans", Arial, sans-serif' font-weight="normal" font-size="60" fill="#262626" >0.8</text></g>
<g transform="matrix(0.9967 0 0 1.0070 261.07 1780.87)"><text font-family='"Liberation Sans", Arial, sans-serif' font-weight="normal" font-size="60" fill="#262626" >0.9</text></g>
<g transform="matrix(0.9967 0 0 1.0362 310.94 1631.59)"><text font-family='"Liberation Sans", Arial, sans-serif' font-weight="normal" font-size="60" dx="1.86" fill="#262626" >1</text><path d="M5.16 -5.98H16.95V1.20H5.16ZM22.25 -5.98H33.54V1.20H22.25Z" fill="#fff"/></g>
<g transform="matrix(0.9967 0 0 1.0362 261.07 1481.70)"><text font-family='"Liberation Sans", Arial, sans-serif' font-weight="normal" font-size="60" dx="1.86 -1.86 1.86" fill="#262626" >1.1</text><path d="M5.16 -5.98H16.95V1.20H5.16ZM22.25 -5.98H33.54V1.20H22.25Z" fill="#fff"/><path d="M55.20 -5.98H66.99V1.20H55.20ZM72.29 -5.98H83.58V1.20H72.29Z" fill="#fff"/></g>
<g transform="matrix(1.0083 0 0 1.0117 400.75 2587.39)"><text font-family='"Liberation Sans", Arial, sans-serif' font-weight="normal" font-size="60" dx="0.00 0.00 0.00 1.86" fill="#262626" >−0.1</text><path d="M90.25 -5.98H102.04V1.20H90.25ZM107.33 -5.98H118.63V1.20H107.33Z" fill="#fff"/></g>
<g transform="matrix(1.0083 0 0 1.0117 807.97 2587.39)"><text font-family='"Liberation Sans", Arial, sans-serif' font-weight="normal" font-size="60" fill="#262626" >0</text></g>
<g transform="matrix(1.0083 0 0 1.0117 1138.15 2587.39)"><text font-family='"Liberation Sans", Arial, sans-serif' font-weight="normal" font-size="60" dx="0.00 0.00 1.86" fill="#262626" >0.1</text><path d="M55.21 -5.98H67.00V1.20H55.21ZM72.29 -5.98H83.59V1.20H72.29Z" fill="#fff"/></g>
<g transform="matrix(1.0083 0 0 1.0117 1493.55 2587.39)"><text font-family='"Liberation Sans", Arial, sans-serif' font-weight="normal" font-size="60" fill="#262626" >0.2</text></g>
<g transform="matrix(0.9967 0 0 1.0194 765.59 2670.50)"><text font-family='"Liberation Sans", Arial, sans-serif' font-weight="normal" font-size="64" letter-spacing="0.90" fill="#262626" >Zonal Transport, Sv</text></g>
<g transform="matrix(0 -1.0070 0.9955 0 237.31 2369.34)"><text font-family='"Liberation Sans", Arial, sans-serif' font-weight="normal" font-size="65" fill="#262626" >Bering Strait Transport, Sv</text></g>
<g transform="matrix(0.9476 0 0 1.0407 969.73 2788.04)"><text font-family='"DejaVu Sans", Verdana, sans-serif' font-weight="normal" font-size="84" fill="#000" >(<tspan dx="1.2" dy="-3.8" font-size="80.2">b</tspan><tspan dx="1.2" dy="3.8" font-size="84">)</tspan></text></g>
<g transform="matrix(1.0000 0 0 1.0040 486.20 1442.08)"><text font-family='"Liberation Sans", Arial, sans-serif' font-weight="bold" font-size="66" fill="#000" style="white-space:pre">Long = 180°W;  K =–0.68;  R</text><path d="M239.42 -8.23H251.85V1.32H239.42ZM260.91 -8.23H272.62V1.32H260.91Z" fill="#fff"/></g>
<g transform="matrix(0.9000 0 0 0.9971 1356.62 1408.00)"><text font-family='"Liberation Sans", Arial, sans-serif' font-weight="bold" font-size="50" fill="#000" >2</text></g>
<g transform="matrix(1.0000 0 0 1.0201 1385.00 1442.13)"><text font-family='"Liberation Sans", Arial, sans-serif' font-weight="bold" font-size="66" fill="#000" style="white-space:pre"> = 0.461</text><path d="M206.60 -8.23H219.04V1.32H206.60ZM228.09 -8.23H239.80V1.32H228.09Z" fill="#fff"/></g></svg>
</body></html>
